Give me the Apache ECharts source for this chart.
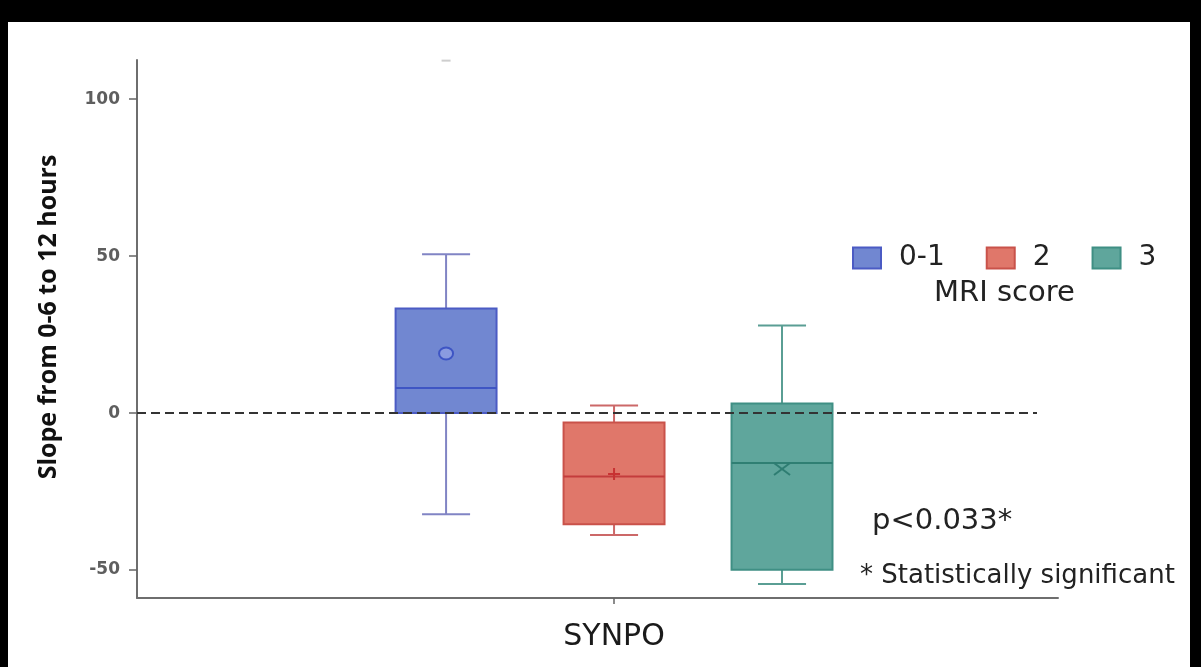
<!DOCTYPE html>
<html>
<head>
<meta charset="utf-8">
<script src="https://cdn.jsdelivr.net/npm/echarts@6/dist/echarts.min.js"></script>
<style>
  html, body { margin: 0; padding: 0; background: #000; }
  #frame { position: absolute; left: 0; top: 0; width: 1201px; height: 667px; box-sizing: border-box;
           border-top: 22px solid #000; border-left: 8px solid #000; border-right: 11px solid #000; background: #fff; }
  #chart { width: 1182px; height: 645px; }
</style>
</head>
<body>
<div id="frame"><div id="chart"></div></div>
<script>
// ---- data ----
const xCategory = "SYNPO";
const groups = ["0-1", "2", "3"];
const whiskerMin = [-32.2, -38.8, -54.4];
const q1 = [0.0, -35.4, -49.9];
const median = [8.0, -20.2, -15.9];
const q3 = [33.3, -3.0, 3.1];
const whiskerMax = [50.6, 2.4, 27.9];
const means = [19.0, -19.4, -17.8];
const outlierGroup = [0];
const outlierValue = [112.3];
const yTicks = [-50, 0, 50, 100];
const legendTitle = "MRI score";
const pText = "p<0.033*";
const noteText = "* Statistically significant";
const yTitle = "Slope from 0-6 to 12 hours";

// ---- styles ----
const fills = ["#7187d1", "#e0776a", "#5fa69c"];
const borders = ["#4b5bc4", "#c9524a", "#3f8f84"];
const whiskerColors = ["#8184c4", "#cc6868", "#5a9e94"];
const medianColors = ["#3e55c4", "#c43c3c", "#2f7f73"];
const meanShapes = ["circle", "plus", "cross"];

const X_MIN = -1.84, X_MAX = 3.643, ZERO_END = 3.518;
const BOX_W = 0.601, CAP_W = 0.286;

function renderBox(params, api) {
  const gi = params.seriesIndex;
  const x = api.value(0);
  const pMin = api.coord([x, api.value(1)]);
  const pQ1 = api.coord([x, api.value(2)]);
  const pMed = api.coord([x, api.value(3)]);
  const pQ3 = api.coord([x, api.value(4)]);
  const pMax = api.coord([x, api.value(5)]);
  const pMean = api.coord([x, api.value(6)]);
  const hw = api.size([BOX_W, 0])[0] / 2;
  const cw = api.size([CAP_W, 0])[0] / 2;
  const cx = pMed[0];
  const wl = { stroke: whiskerColors[gi], lineWidth: 2 };
  const children = [
    { type: 'line', shape: { x1: cx, y1: pMax[1], x2: cx, y2: pQ3[1] }, style: wl },
    { type: 'line', shape: { x1: cx, y1: pQ1[1], x2: cx, y2: pMin[1] }, style: wl },
    { type: 'line', shape: { x1: cx - cw, y1: pMax[1], x2: cx + cw, y2: pMax[1] }, style: wl },
    { type: 'line', shape: { x1: cx - cw, y1: pMin[1], x2: cx + cw, y2: pMin[1] }, style: wl },
    { type: 'rect', shape: { x: cx - hw, y: pQ3[1], width: hw * 2, height: pQ1[1] - pQ3[1] },
      style: { fill: fills[gi], stroke: borders[gi], lineWidth: 2 } },
    { type: 'line', shape: { x1: cx - hw, y1: pMed[1], x2: cx + hw, y2: pMed[1] },
      style: { stroke: medianColors[gi], lineWidth: 2 } }
  ];
  const my = pMean[1];
  const shape = meanShapes[gi];
  if (shape === 'circle') {
    children.push({ type: 'ellipse', shape: { cx: cx, cy: my, rx: 7, ry: 6 },
      style: { fill: '#8a9be0', stroke: medianColors[gi], lineWidth: 2 } });
  } else if (shape === 'plus') {
    children.push({ type: 'line', shape: { x1: cx - 6, y1: my, x2: cx + 6, y2: my }, style: { stroke: '#c83232', lineWidth: 2 } });
    children.push({ type: 'line', shape: { x1: cx, y1: my - 6, x2: cx, y2: my + 6 }, style: { stroke: '#c83232', lineWidth: 2 } });
  } else {
    children.push({ type: 'line', shape: { x1: cx - 8, y1: my - 6, x2: cx + 8, y2: my + 6 }, style: { stroke: '#2e7d72', lineWidth: 2 } });
    children.push({ type: 'line', shape: { x1: cx - 8, y1: my + 6, x2: cx + 8, y2: my - 6 }, style: { stroke: '#2e7d72', lineWidth: 2 } });
  }
  return { type: 'group', children: children };
}

const boxSeries = groups.map((g, i) => ({
  name: g,
  type: 'custom',
  z: 2,
  itemStyle: { color: fills[i], borderColor: borders[i] },
  encode: { x: 0, y: [1, 2, 3, 4, 5, 6] },
  data: [[i, whiskerMin[i], q1[i], median[i], q3[i], whiskerMax[i], means[i]]],
  renderItem: renderBox,
  silent: true
}));

const labelPos = (groups.length - 1) / 2;

const option = {
  animation: false,
  backgroundColor: '#fff',
  textStyle: { fontFamily: 'DejaVu Sans' },
  grid: { left: 129, right: 132, top: 38, bottom: 69, containLabel: false },
  xAxis: {
    type: 'value', min: X_MIN, max: X_MAX,
    splitLine: { show: false },
    axisLine: { show: true, onZero: false, lineStyle: { color: '#6e6e6e', width: 2 } },
    axisTick: { show: true, length: 6, customValues: [labelPos], lineStyle: { color: '#666', width: 1.5 } },
    axisLabel: { customValues: [labelPos], formatter: () => xCategory, fontSize: 30, margin: 24,
                 color: '#1a1a1a', fontFamily: 'DejaVu Sans' }
  },
  yAxis: {
    type: 'value', min: -58.9, max: 112.5,
    name: yTitle, nameLocation: 'middle', nameGap: 76,
    nameTextStyle: { fontSize: 25, fontWeight: 'bold', color: '#111', fontFamily: 'Open Sans', padding: [0, 0, 0, 24] },
    splitLine: { show: false },
    axisLine: { show: true, onZero: false, lineStyle: { color: '#6e6e6e', width: 2 } },
    axisTick: { show: true, length: 8, customValues: yTicks, lineStyle: { color: '#666', width: 1.5 } },
    axisLabel: { customValues: yTicks, fontSize: 17, fontWeight: 'bold', margin: 17, color: '#5e5e5e', fontFamily: 'DejaVu Sans' }
  },
  legend: {
    left: 839, top: 214, icon: 'rect', itemWidth: 28, itemHeight: 21, itemGap: 41,
    selectedMode: false,
    textStyle: { fontSize: 28, color: '#222', fontFamily: 'DejaVu Sans', padding: [0, 0, 0, 13], lineHeight: 34 },
    data: groups.map((g, i) => ({ name: g, itemStyle: { color: fills[i], borderColor: borders[i], borderWidth: 2 } }))
  },
  graphic: [
    { type: 'text', left: 926, top: 257, style: { text: legendTitle, fontSize: 29, fill: '#222', fontFamily: 'DejaVu Sans' } },
    { type: 'text', left: 864, top: 485, style: { text: pText, fontSize: 29, fill: '#222', fontFamily: 'DejaVu Sans' } },
    { type: 'text', left: 852, top: 541, style: { text: noteText, fontSize: 26, fill: '#222', fontFamily: 'DejaVu Sans' } }
  ],
  series: boxSeries.concat([{
    type: 'scatter',
    name: 'outliers',
    z: 5,
    symbol: 'rect',
    symbolSize: [9, 2],
    itemStyle: { color: '#c2c2c2' },
    data: outlierGroup.map((g, k) => [g, outlierValue[k]]),
    silent: true,
    markLine: {
      silent: true, symbol: 'none', label: { show: false },
      lineStyle: { color: '#333', type: [9, 5], width: 2 },
      data: [[{ coord: [X_MIN, 0] }, { coord: [ZERO_END, 0] }]]
    }
  }])
};

const chart = echarts.init(document.getElementById('chart'));
chart.setOption(option);
</script>
</body>
</html>
